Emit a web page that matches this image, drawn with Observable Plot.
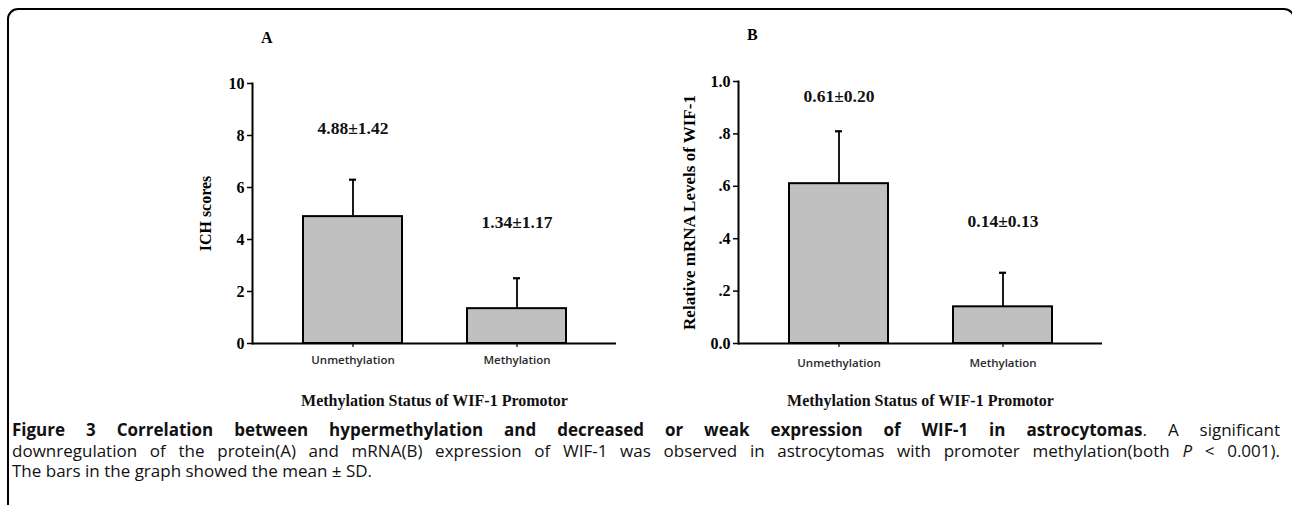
<!DOCTYPE html>
<html>
<head>
<meta charset="utf-8">
<script src="https://cdn.jsdelivr.net/npm/d3@7"></script>
<script src="https://cdn.jsdelivr.net/npm/@observablehq/plot@0.6"></script>
<style>
  html, body { margin: 0; padding: 0; background: #fff; }
  #page { position: relative; width: 1292px; height: 505px; overflow: hidden; background: #fff; }
  #frame { position: absolute; left: 7px; top: 8px; width: 1288px; height: 620px; border: 2px solid #000; border-radius: 11px; box-sizing: border-box; }
  .panel { position: absolute; top: 0; }
  .letter { position: absolute; font-family: "Liberation Serif", serif; font-weight: bold; font-size: 16px; line-height: 1; }
  #caption { position: absolute; left: 12px; top: 420px; width: 1268px; font-family: "Open Sans", sans-serif; font-size: 17px; line-height: 20.5px; color: #111; }
  #caption .line { text-align: justify; text-align-last: justify; white-space: nowrap; }
  #caption .line.last { text-align-last: left; }
  #caption b { font-weight: 700; }
</style>
</head>
<body>
<div id="page">
  <div id="frame"></div>
  <div id="panelA" class="panel" style="left:0px"></div>
  <div id="panelB" class="panel" style="left:640px"></div>
  <div class="letter" style="left:261px; top:30px">A</div>
  <div class="letter" style="left:747px; top:27px">B</div>
  <div id="caption">
    <div class="line"><b>Figure 3 Correlation between hypermethylation and decreased or weak expression of WIF-1 in astrocytomas</b>. A significant</div>
    <div class="line">downregulation of the protein(A) and mRNA(B) expression of WIF-1 was observed in astrocytomas with promoter methylation(both <i>P</i> &lt; 0.001).</div>
    <div class="line last">The bars in the graph showed the mean ± SD.</div>
  </div>
</div>
<script>
// ---- data ----
const categories = ["Unmethylation", "Methylation"];
const ichMean = [4.88, 1.34];
const ichSD = [1.42, 1.17];
const ichLabels = ["4.88±1.42", "1.34±1.17"];
const mrnaMean = [0.61, 0.14];
const mrnaSD = [0.20, 0.13];
const mrnaLabels = ["0.61±0.20", "0.14±0.13"];
const ichTicks = [0, 2, 4, 6, 8, 10];
const ichTickLabels = ["0", "2", "4", "6", "8", "10"];
const mrnaTicks = [0, 0.2, 0.4, 0.6, 0.8, 1.0];
const mrnaTickLabels = ["0.0", ".2", ".4", ".6", ".8", "1.0"];
const xTitle = "Methylation Status of WIF-1 Promotor";
const yTitleA = "ICH scores";
const yTitleB = "Relative mRNA Levels of WIF-1";

function rows(means, sds, labels) {
  return categories.map((c, i) => ({cat: c, mean: means[i], sd: sds[i], top: means[i] + sds[i], label: labels[i]}));
}

function panel({data, yDomain, ticks, tickLabels, yTitle, yTitleSize, width, marginLeft, marginRight, marginTop, labelDy, yLabelOffset, catDy}) {
  const serif = "Liberation Serif, Times New Roman, serif";
  return Plot.plot({
    width, height: 420,
    marginLeft, marginRight, marginTop, marginBottom: 77,
    style: {fontFamily: serif, fontWeight: "bold", fontSize: "16px", color: "#000", background: "transparent"},
    x: {type: "band", domain: categories, paddingInner: 0.397, paddingOuter: 0.3045, label: null},
    y: {domain: yDomain, label: null},
    marks: [
      Plot.barY(data, {x: "cat", y: "mean", fill: "#c0c0c0", stroke: "#000", strokeWidth: 2}),
      Plot.ruleX(data, {x: "cat", y1: "mean", y2: "top", stroke: "#000", strokeWidth: 1.8}),
      Plot.tickY(data, {x: "cat", y: "top", stroke: "#000", strokeWidth: 2.2, insetLeft: 46, insetRight: 46}),
      ...data.map((d, i) => Plot.text([d], {x: "cat", y: "top", text: "label", dy: labelDy[i], fontSize: 17.5, fontWeight: "bold", fontFamily: serif, fill: "#111"})),
      Plot.ruleY([0], {stroke: "#000", strokeWidth: 2}),
      Plot.frame({anchor: "left", stroke: "#000", strokeWidth: 2}),
      Plot.axisY({ticks, tickFormat: (v) => tickLabels[ticks.indexOf(v)], tickSize: 5, tickPadding: 3, strokeWidth: 1.5, fontSize: 16, fontWeight: "bold", fontFamily: serif, label: null}),
      Plot.axisY({ticks: [], label: yTitle, labelAnchor: "center", labelOffset: yLabelOffset, labelArrow: "none", fontSize: yTitleSize, fontWeight: "bold", fontFamily: serif}),
      Plot.axisX({tickSize: 4, tickPadding: catDy, strokeWidth: 1.2, fontSize: 11.5, fontWeight: 600, fontFamily: "Open Sans, sans-serif", fill: "#2a2a2a", label: null}),
      Plot.axisX({ticks: [], label: xTitle, labelAnchor: "center", labelOffset: 62, labelArrow: "none", fontSize: 16, fontWeight: "bold", fontFamily: serif, fill: "#111"})
    ]
  });
}

document.getElementById("panelA").append(panel({
  data: rows(ichMean, ichSD, ichLabels),
  yDomain: [0, 10], ticks: ichTicks, tickLabels: ichTickLabels, yTitle: yTitleA, yTitleSize: 16,
  width: 646, marginLeft: 252, marginRight: 30, marginTop: 83,
  labelDy: [-51, -56], yLabelOffset: 53, catDy: 8
}));
document.getElementById("panelB").append(panel({
  data: rows(mrnaMean, mrnaSD, mrnaLabels),
  yDomain: [0, 1], ticks: mrnaTicks, tickLabels: mrnaTickLabels, yTitle: yTitleB, yTitleSize: 17,
  width: 652, marginLeft: 98, marginRight: 190, marginTop: 81,
  labelDy: [-35, -51], yLabelOffset: 56, catDy: 11
}));
</script>
</body>
</html>
